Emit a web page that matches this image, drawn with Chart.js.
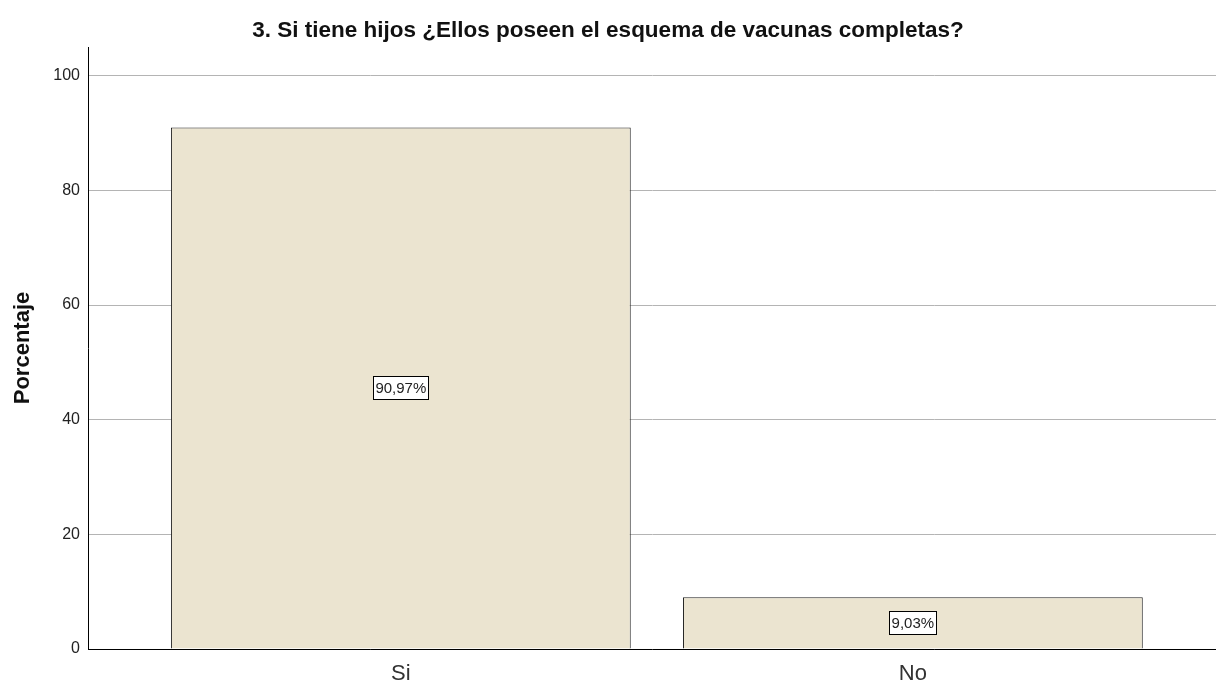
<!DOCTYPE html>
<html>
<head>
<meta charset="utf-8">
<script src="https://cdn.jsdelivr.net/npm/chart.js@4"></script>
<style>
  html, body { margin: 0; padding: 0; background: #fff; }
  #wrap { width: 1216px; height: 684px; }
</style>
</head>
<body>
<div id="wrap"><canvas id="myChart" width="1216" height="684"></canvas></div>
<script>
const categories = ['Si', 'No']
const values = [90.97, 9.03]
const valueLabels = ['90,97%', '9,03%']
const yTicks = [0, 20, 40, 60, 80, 100]

// white boxes with the percentage in the middle of each bar
const boxLabels = {
  id: 'boxLabels',
  afterDatasetsDraw(chart) {
    const c = chart.ctx
    const meta = chart.getDatasetMeta(0)
    c.save()
    c.font = '15px Arial, "Liberation Sans"'
    c.textAlign = 'center'
    c.textBaseline = 'middle'
    meta.data.forEach((bar, i) => {
      const mid = (bar.y + bar.base) / 2
      const txt = valueLabels[i]
      const w = Math.round(c.measureText(txt).width + 4)
      const h = 23
      const x0 = Math.round(bar.x - w / 2) + 0.5
      const y0 = Math.round(mid - h / 2) + 0.5
      c.fillStyle = '#fff'
      c.fillRect(x0, y0, w, h)
      c.strokeStyle = '#000'
      c.lineWidth = 1
      c.strokeRect(x0, y0, w, h)
      c.fillStyle = '#222'
      c.fillText(txt, bar.x, mid + 1)
    })
    c.restore()
  }
}

const ctx = document.getElementById('myChart')
new Chart(ctx, {
  type: 'bar',
  data: {
    datasets: [{
      data: values.map((v, i) => ({ x: i, y: v })),
      backgroundColor: '#ebe4d0',
      borderColor: '#222',
      borderWidth: 1,
      barPercentage: 1,
      categoryPercentage: 0.898
    }]
  },
  options: {
    responsive: false,
    animation: false,
    layout: { padding: 0 },
    plugins: {
      legend: { display: false },
      tooltip: { enabled: false },
      title: {
        display: true,
        text: '3. Si tiene hijos ¿Ellos poseen el esquema de vacunas completas?',
        color: '#111',
        font: { family: 'Arial, "Liberation Sans"', size: 22.5, weight: 'bold' },
        padding: { top: 17, bottom: 3 }
      }
    },
    scales: {
      x: {
        type: 'linear',
        offset: false,
        min: -0.611,
        max: 1.592,
        afterBuildTicks: (s) => { s.ticks = categories.map((c, i) => ({ value: i })) },
        afterFit: (s) => { s.height = 35 },
        ticks: {
          callback: (v) => categories[v],
          color: '#333',
          font: { family: 'Arial, "Liberation Sans"', size: 22 },
          padding: 12,
          maxRotation: 0
        },
        grid: { display: false, drawTicks: false },
        border: { color: '#000', width: 1 }
      },
      y: {
        min: 0,
        max: 105,
        afterBuildTicks: (s) => { s.ticks = yTicks.map(v => ({ value: v })) },
        afterFit: (s) => { s.width = 88 },
        title: {
          display: true,
          text: 'Porcentaje',
          color: '#111',
          font: { family: 'Arial, "Liberation Sans"', size: 22, weight: 'bold' },
          padding: { top: 10, bottom: 4 }
        },
        ticks: {
          color: '#222',
          font: { family: 'Arial, "Liberation Sans"', size: 16 },
          padding: 8
        },
        grid: { color: '#b4b4b4', lineWidth: 1, drawTicks: false },
        border: { color: '#000', width: 1 }
      }
    }
  },
  plugins: [boxLabels]
})
</script>
</body>
</html>
